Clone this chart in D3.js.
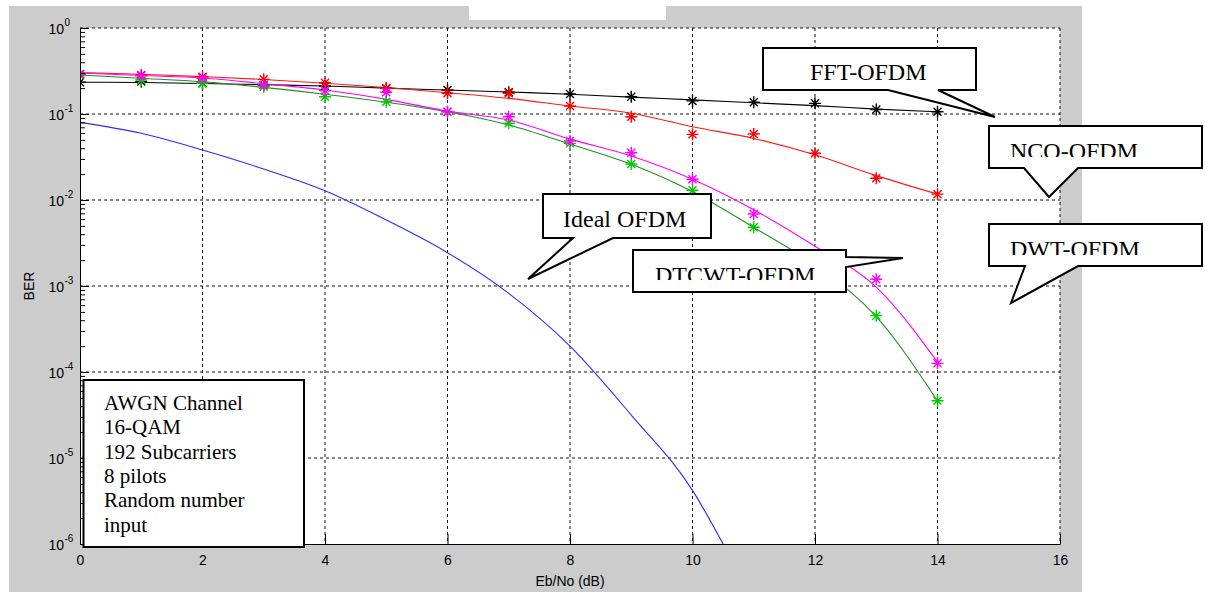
<!DOCTYPE html>
<html>
<head>
<meta charset="utf-8">
<script src="https://cdn.jsdelivr.net/npm/d3@7"></script>
<style>
  body { margin: 0; background: #fff; }
  svg { display: block; }
  .tick text { font-family: "Liberation Sans", Arial, sans-serif; font-size: 14px; fill: #000; }
  .call text { font-family: "Liberation Serif", "Times New Roman", serif; font-size: 24px; fill: #000; }
</style>
</head>
<body>
<svg width="1205" height="592"></svg>
<script>
// valori (BER)
var ebno = [0, 1, 2, 3, 4, 5, 6, 7, 8, 9, 10, 11, 12, 13, 14];
var ideal_ebno = [0, 1, 2, 3, 4, 5, 6, 7, 8, 9, 10, 10.5];
var ideal_ber = [0.080, 0.0596, 0.0381, 0.0229, 0.0128, 0.00585, 0.00244, 0.000822, 0.000200, 0.0000316, 0.0000042, 0.000001];

var fft_fit = [0.234, 0.232, 0.226, 0.219, 0.212, 0.200, 0.190, 0.180, 0.170, 0.157, 0.146, 0.135, 0.125, 0.114, 0.106];
var fft_sim = [0.234, 0.238, 0.228, 0.217, 0.212, 0.199, 0.190, 0.179, 0.171, 0.159, 0.142, 0.137, 0.133, 0.113, 0.106];
var nco_fit = [0.302, 0.290, 0.272, 0.252, 0.228, 0.203, 0.177, 0.152, 0.124, 0.102, 0.071, 0.052, 0.0335, 0.0192, 0.0117];
var nco_sim = [0.292, 0.284, 0.271, 0.253, 0.231, 0.199, 0.174, 0.174, 0.124, 0.093, 0.058, 0.0585, 0.0349, 0.0179, 0.0117];
var dtcwt_fit = [0.300, 0.280, 0.262, 0.225, 0.190, 0.148, 0.108, 0.085, 0.051, 0.0325, 0.0174, 0.0077, 0.0029, 0.00097, 0.00013];
var dtcwt_sim = [0.292, 0.279, 0.260, 0.217, 0.187, 0.179, 0.106, 0.093, 0.0485, 0.0355, 0.0174, 0.00687, 0.0023, 0.00120, 0.000126];
var dwt_fit = [0.284, 0.260, 0.237, 0.204, 0.170, 0.137, 0.106, 0.0745, 0.0447, 0.026, 0.0125, 0.0048, 0.00175, 0.00044, 0.000046];
var dwt_sim = [0.280, 0.249, 0.228, 0.208, 0.159, 0.139, 0.106, 0.078, 0.0456, 0.0262, 0.013, 0.00482, 0.00175, 0.000452, 0.0000464];

var x_ticks = [0, 2, 4, 6, 8, 10, 12, 14, 16];
var y_decadi = [1e-6, 1e-5, 1e-4, 1e-3, 1e-2, 1e-1, 1];
var y_esponenti = ["-6", "-5", "-4", "-3", "-2", "-1", "0"];
var info_righe = ["AWGN Channel", "16-QAM", "192 Subcarriers", "8 pilots", "Random number", "input"];

// layout
var svg = d3.select("svg"),
    sx = 80, dx = 1060, sy = 28, by = 544;

var x = d3.scaleLinear().domain([0, 16]).range([sx, dx]);
var y = d3.scaleLog().domain([1e-6, 1]).range([by, sy]);

// sfondo grigio stile figura matlab
svg.append("rect").attr("width", 1205).attr("height", 592).attr("fill", "#fff");
svg.append("rect").attr("x", 9).attr("y", 6).attr("width", 1073).attr("height", 586).attr("fill", "#cccccc");
svg.append("rect").attr("x", 469).attr("y", 0).attr("width", 197).attr("height", 20).attr("fill", "#fff");
svg.append("rect").attr("x", sx).attr("y", sy).attr("width", dx - sx).attr("height", by - sy).attr("fill", "#fff");

svg.append("clipPath").attr("id", "area")
  .append("rect").attr("x", sx).attr("y", sy).attr("width", dx - sx).attr("height", by - sy);

// griglia tratteggiata
var griglia = svg.append("g").attr("stroke", "#111").attr("stroke-width", 1).attr("stroke-dasharray", "3,3");
x_ticks.slice(1).forEach(function(t){
  griglia.append("line").attr("x1", x(t)).attr("x2", x(t)).attr("y1", sy).attr("y2", by);
});
y_decadi.slice(1).forEach(function(t){
  griglia.append("line").attr("x1", sx).attr("x2", dx).attr("y1", y(t)).attr("y2", y(t));
});

// curve
var linea = function(xv){
  return d3.line()
    .x(function(d, i){ return x(xv[i]); })
    .y(function(d){ return y(d); })
    .curve(d3.curveMonotoneX);
};

var curve = [
  { fit: ideal_ber, xv: ideal_ebno, line: "#2b2bff" },
  { fit: fft_fit, sim: fft_sim, xv: ebno, line: "#000", mk: "#000" },
  { fit: nco_fit, sim: nco_sim, xv: ebno, line: "#ff1a1a", mk: "#ff0000" },
  { fit: dwt_fit, sim: dwt_sim, xv: ebno, line: "#1f8f1f", mk: "#00cc00" },
  { fit: dtcwt_fit, sim: dtcwt_sim, xv: ebno, line: "#ff00ff", mk: "#ff00ff" }
];

var plot = svg.append("g").attr("clip-path", "url(#area)");
curve.forEach(function(c){
  plot.append("path")
    .attr("d", linea(c.xv)(c.fit))
    .attr("fill", "none")
    .attr("stroke", c.line)
    .attr("stroke-width", 1.1);
});

var stella = "M-6,0L6,0M0,-6L0,6M-4,-4L4,4M-4,4L4,-4";
curve.forEach(function(c){
  if (!c.sim) return;
  c.sim.forEach(function(v, i){
    plot.append("path")
      .attr("d", stella)
      .attr("transform", "translate(" + x(c.xv[i]) + "," + y(v) + ")")
      .attr("fill", "none")
      .attr("stroke", c.mk)
      .attr("stroke-width", 1.4);
  });
});

// assi
var minori = [];
y_decadi.slice(0, -1).forEach(function(d){
  for (var k = 2; k < 10; k++) minori.push(d * k);
});

svg.append("g")
  .attr("transform", "translate(0," + by + ")")
  .call(d3.axisBottom(x).tickValues(x_ticks).tickSize(-10).tickSizeOuter(0).tickPadding(11))
  .call(function(g){ g.selectAll("line, path").attr("stroke", "#000"); });

svg.append("g")
  .attr("transform", "translate(" + sx + ",0)")
  .call(d3.axisLeft(y).tickValues(y_decadi).tickSize(-9).tickSizeOuter(0).tickFormat(""))
  .call(function(g){ g.selectAll("line, path").attr("stroke", "#000"); });

svg.append("g")
  .attr("transform", "translate(" + sx + ",0)")
  .call(d3.axisLeft(y).tickValues(minori).tickSize(-5).tickSizeOuter(0).tickFormat(""))
  .call(function(g){ g.select(".domain").remove(); g.selectAll("line").attr("stroke", "#000"); });

var etich = svg.append("g").attr("font-family", "Liberation Sans, Arial, sans-serif").attr("fill", "#000");
y_decadi.forEach(function(d, i){
  etich.append("text").attr("x", 64).attr("y", y(d) + 6).attr("text-anchor", "end")
    .attr("font-size", 14).text("10");
  etich.append("text").attr("x", 64.5).attr("y", y(d) - 2)
    .attr("font-size", 10).text(y_esponenti[i]);
});

etich.append("text").attr("x", x(8)).attr("y", 586).attr("text-anchor", "middle")
  .attr("font-size", 14).text("Eb/No (dB)");
etich.append("text").attr("transform", "translate(33.5," + ((sy + by) / 2) + ") rotate(-90)")
  .attr("text-anchor", "middle").attr("font-size", 14).text("BER");

// fumetti
var fumetti = [
  { testo: "FFT-OFDM", box: [763, 48, 976, 90], punta: [888, 938, 995, 117], tx: 810, ty: 80 },
  { testo: "NCO-OFDM", box: [989, 126, 1202, 168], punta: [1024, 1078, 1049, 197], tx: 1010, ty: 159, taglio: 157 },
  { testo: "DWT-OFDM", box: [989, 224, 1202, 266], punta: [1025, 1078, 1011, 303], tx: 1010, ty: 256.5, taglio: 255 },
  { testo: "Ideal OFDM", box: [543, 194, 711, 238], punta: [573, 613, 528, 279], tx: 563, ty: 226.5 },
  { testo: "DTCWT-OFDM", box: [633, 250, 846, 292], lato: [257, 267, 903, 258], tx: 655, ty: 283, taglio: 280 }
];

var call = svg.append("g").attr("class", "call");
fumetti.forEach(function(f, n){
  var b = f.box, d;
  if (f.punta) {
    var p = f.punta;
    d = "M" + b[0] + "," + b[1] + "H" + b[2] + "V" + b[3] + "H" + p[1] +
        "L" + p[2] + "," + p[3] + "L" + p[0] + "," + b[3] + "H" + b[0] + "Z";
  } else {
    var l = f.lato;
    d = "M" + b[0] + "," + b[1] + "H" + b[2] + "V" + l[0] + "L" + l[2] + "," + l[3] +
        "L" + b[2] + "," + l[1] + "V" + b[3] + "H" + b[0] + "Z";
  }
  call.append("path").attr("d", d).attr("fill", "#fff").attr("stroke", "#000")
    .attr("stroke-width", 2).attr("stroke-linejoin", "miter");
  var t = call.append("text").attr("x", f.tx).attr("y", f.ty).text(f.testo);
  if (f.taglio) {
    svg.append("clipPath").attr("id", "taglio" + n)
      .append("rect").attr("x", b[0]).attr("y", b[1]).attr("width", b[2] - b[0]).attr("height", f.taglio - b[1]);
    t.attr("clip-path", "url(#taglio" + n + ")");
  }
});

// riquadro parametri
var info = svg.append("g").attr("class", "call");
info.append("rect").attr("x", 83.5).attr("y", 380).attr("width", 220.5).attr("height", 167)
  .attr("fill", "#fff").attr("stroke", "#000").attr("stroke-width", 2);
info_righe.forEach(function(r, i){
  info.append("text").attr("x", 104).attr("y", 410 + i * 24.3)
    .style("font-size", "21px").text(r);
});
</script>
</body>
</html>
